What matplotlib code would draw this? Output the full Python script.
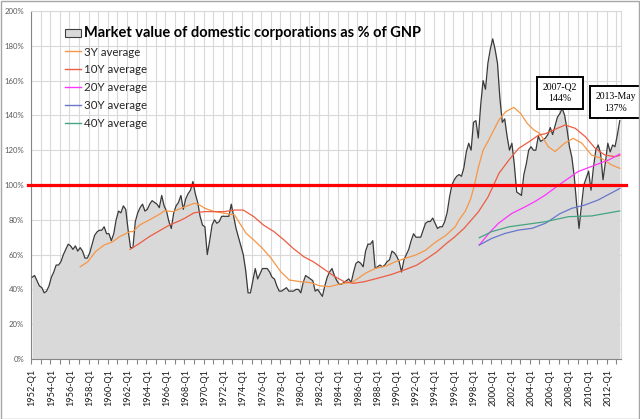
import matplotlib
matplotlib.use('Agg')
import matplotlib.pyplot as plt
from matplotlib.patches import Patch, Rectangle
from matplotlib.lines import Line2D

# ---------------- data ----------------
# Market value of domestic corporations as % of GNP, quarterly 1952-Q1 .. 2013-Q1, plus 2013-May
market_value = [
    47, 48, 45, 42,   41, 38, 39, 42,   47, 50, 54, 54,   56, 60, 63, 66,   # 1952-55
    65, 63, 65, 62,   64, 62, 58, 58,   61, 66, 71, 73,   74, 74, 76, 72,   # 1956-59
    72, 68, 72, 80,   85, 84, 88, 86,   74, 64, 64, 79,   84, 87, 89, 85,   # 1960-63
    86, 89, 91, 90,   89, 87, 94, 88,   85, 79, 75, 84,   88, 90, 94, 86,   # 1964-67
    92, 95, 97, 102,  95, 90, 82, 77,   76, 60, 68, 77,   80, 78, 79, 82,   # 1968-71
    82, 82, 82, 89,   82, 75, 70, 65,   60, 51, 38, 38,   45, 52, 46, 49,   # 1972-75
    52, 52, 52, 50,   47, 46, 42, 39,   39, 40, 41, 39,   39, 39, 40, 40,   # 1976-79
    38, 44, 48, 47,   46, 45, 39, 40,   38, 36, 42, 47,   50, 52, 48, 45,   # 1980-83
    43, 43, 44, 45,   46, 44, 50, 55,   56, 55, 53, 62,   66, 66, 68, 52,   # 1984-87
    53, 54, 53, 54,   56, 57, 62, 61,   59, 56, 50, 57,   60, 63, 68, 72,   # 1988-91
    70, 70, 70, 74,   78, 79, 79, 81,   78, 75, 76, 76,   79, 84, 93, 100,  # 1992-95
    103, 105, 106, 105, 110, 119, 124, 120, 136, 137, 127, 146, 160, 155, 170, 178,  # 1996-99
    184, 178, 170, 150, 136, 138, 128, 120, 124, 112, 96, 95, 94, 106, 112, 120,    # 2000-03
    122, 120, 120, 128, 125, 126, 127, 129, 133, 129, 134, 139, 141, 144, 140, 132,  # 2004-07
    122, 116, 105, 89, 75, 88, 100, 104, 108, 97, 110, 120, 123, 118, 103, 113,     # 2008-11
    124, 119, 123, 122,                                                          # 2012
    129, 137,                                                                    # 2013-Q1, 2013-May
]
categories = [f"{y}-Q{q}" for y in range(1952, 2013) for q in (1, 2, 3, 4)] + ["2013-Q1", "2013-May"]
tick_labels = [f"{y}-Q1" for y in range(1952, 2013, 2)]

# moving averages (decimal years)
avg3_years = [1957.0, 1957.8, 1958.6, 1959.5, 1960.4, 1961.1, 1962.2, 1962.5, 1963.2, 1964.2,
              1965.3, 1965.8, 1966.7, 1967.9, 1968.9, 1969.3, 1970.0, 1971.0, 1972.0, 1973.1,
              1973.75, 1974.3, 1975.1, 1976.0, 1976.9, 1977.9, 1978.8, 1980.0, 1981.0, 1982.0,
              1983.0, 1984.0, 1985.4, 1986.8, 1987.8, 1988.9, 1989.9, 1990.9, 1992.0, 1993.0,
              1994.0, 1995.1, 1996.1, 1996.5, 1997.15, 1997.7, 1998.1, 1998.5, 1999.0, 1999.6,
              2000.65, 2001.35, 2002.2, 2002.9, 2003.6, 2004.3, 2004.9, 2005.8, 2006.5, 2007.5,
              2008.4, 2009.3, 2010.3, 2011.35, 2012.4, 2013.25]
avg3_vals = [53.0, 55.9, 61.7, 65.5, 67.4, 70.3, 73.2, 73.2, 77.0, 79.9,
             83.3, 85.2, 84.7, 87.5, 89.5, 89.0, 86.6, 84.7, 83.8, 82.8,
             77.0, 72.2, 68.4, 63.6, 57.9, 50.2, 45.4, 44.4, 43.9, 42.0,
             41.6, 43.0, 44.2, 49.5, 52.1, 53.5, 56.0, 57.9, 59.8, 62.5,
             67.0, 71.0, 76.0, 80.0, 85.0, 92.0, 100.0, 110.0, 120.0, 126.0,
             137.4, 142.1, 144.6, 141.2, 135.4, 131.6, 129.7, 122.0, 119.2, 124.0,
             126.8, 124.0, 117.2, 115.3, 111.5, 109.6]

avg10_years = [1962.2, 1963.2, 1964.2, 1965.3, 1966.3, 1967.4, 1967.9, 1968.9, 1970.0, 1971.0,
               1972.0, 1973.1, 1974.0, 1975.1, 1976.1, 1977.2, 1978.25, 1979.2, 1980.3, 1981.3,
               1982.3, 1983.5, 1984.5, 1985.5, 1986.6, 1988.0, 1989.4, 1990.75, 1992.1, 1993.2,
               1994.2, 1995.2, 1996.0, 1997.0, 1998.5, 1999.5, 2000.1, 2000.65, 2001.7, 2002.7,
               2003.8, 2004.8, 2005.5, 2006.5, 2007.55, 2008.6, 2009.65, 2010.7, 2011.7, 2012.75,
               2013.25]
avg10_vals = [63.0, 66.5, 70.3, 73.8, 77.0, 79.5, 80.9, 84.1, 84.7, 84.7,
              84.7, 85.6, 85.6, 81.8, 77.0, 73.2, 68.4, 63.6, 58.8, 55.9,
              52.1, 47.5, 44.5, 43.5, 44.4, 46.4, 48.5, 51.1, 54.0, 57.9,
              61.7, 66.5, 70.0, 75.0, 84.5, 93.0, 100.0, 106.7, 114.4, 121.0,
              124.9, 128.7, 129.5, 132.0, 134.5, 132.6, 127.8, 121.0, 117.2, 116.3,
              117.0]

avg20_years = [1998.6, 1999.6, 2000.6, 2002.0, 2003.4, 2004.4, 2005.5, 2006.9, 2008.9, 2010.7, 2012.1, 2013.25]
avg20_vals = [65.5, 72.2, 78.0, 83.7, 87.5, 90.5, 94.3, 100.0, 107.7, 111.5, 114.4, 117.8]

avg30_years = [1998.6, 1999.9, 2001.3, 2002.7, 2004.1, 2005.5, 2007.0, 2008.25, 2009.6, 2011.0, 2013.25]
avg30_vals = [65.5, 69.3, 72.2, 74.1, 75.1, 78.0, 83.5, 86.6, 88.5, 91.4, 98.0]

avg40_years = [1998.6, 1999.9, 2001.7, 2003.8, 2005.5, 2007.9, 2010.3, 2013.25]
avg40_vals = [69.7, 73.2, 76.0, 77.6, 78.9, 81.8, 82.2, 85.1]

threshold = 100
callouts = ["2007-Q2", "2013-May"]

series_names = ["Market value of domestic corporations as % of GNP",
                "3Y average", "10Y average", "20Y average", "30Y average", "40Y average"]

# ---------------- styles ----------------
AREA = '#d9d9d9'
GRID = '#d9d9d9'
AXIS = '#868686'
C3, C10, C20, C30, C40 = '#F79646', '#EE5C42', '#FF33FF', '#6677CC', '#44A582'

fig = plt.figure(figsize=(6.40, 4.19), dpi=100)
ax = fig.add_axes([31 / 640, 1 - 359 / 419, 590 / 640, 348 / 419])

idx = list(range(len(market_value)))
ax.fill_between(idx, 0, market_value, color=AREA, lw=0, zorder=2)
ax.plot(idx, market_value, color='#3a3a3a', lw=0.9, zorder=3)

def to_idx(years):
    return [(y - 1952) * 4 for y in years]

ax.plot(to_idx(avg3_years), avg3_vals, color=C3, lw=0.9, zorder=4)
ax.plot(to_idx(avg10_years), avg10_vals, color=C10, lw=0.9, zorder=4)
ax.plot(to_idx(avg20_years), avg20_vals, color=C20, lw=0.9, zorder=4)
ax.plot(to_idx(avg30_years), avg30_vals, color=C30, lw=0.9, zorder=4)
ax.plot(to_idx(avg40_years), avg40_vals, color=C40, lw=0.9, zorder=4)

ax.axhline(threshold, xmin=-0.005, xmax=1.008, color='#FF0000', lw=2.3, zorder=5, clip_on=False)

# axes
ax.set_xlim(-0.5, len(market_value) - 0.5)
ax.set_ylim(0, 200)
ax.set_yticks(range(0, 201, 20))
ax.set_yticklabels([f"{v}%" for v in range(0, 201, 20)], fontsize=5.6, color='#595959', family='Lato')
ax.tick_params(axis='y', length=0, pad=5)

major = [categories.index(t) for t in tick_labels]
ax.set_xticks(major)
ax.set_xticklabels(tick_labels, rotation=90, fontsize=6.6, family='Lato', color='#1a1a1a')
ax.tick_params(axis='x', which='major', length=0, pad=7)
minor = [i - 0.5 for i in range(0, len(market_value), 4)]
ax.set_xticks(minor, minor=True)
ax.tick_params(axis='x', which='minor', length=3.5, color=AXIS, width=0.8)

ax.grid(axis='y', which='major', color=GRID, lw=0.8, zorder=0)
ax.grid(axis='x', which='minor', color=GRID, lw=0.8, zorder=0)
ax.set_axisbelow(True)
for s in ('left', 'bottom'):
    ax.spines[s].set_color(AXIS)
    ax.spines[s].set_linewidth(0.8)
for s in ('top', 'right'):
    ax.spines[s].set_color(GRID)
    ax.spines[s].set_linewidth(0.8)

# legend
handles = [Patch(facecolor=AREA, edgecolor='#404040', lw=0.8),
           Line2D([], [], color=C3, lw=1), Line2D([], [], color=C10, lw=1),
           Line2D([], [], color=C20, lw=1), Line2D([], [], color=C30, lw=1),
           Line2D([], [], color=C40, lw=1)]
leg = ax.legend(handles, series_names, loc='upper left', bbox_to_anchor=(0.057, 0.958),
                frameon=False, prop={'family': 'Lato', 'size': 8.3},
                handlelength=1.45, handletextpad=0.25, labelspacing=0.6,
                borderpad=0, borderaxespad=0)
for t in leg.get_texts():
    t.set_color('#262626')
leg.get_texts()[0].set_fontweight('bold')
leg.get_texts()[0].set_fontsize(10.5)
leg.get_texts()[0].set_color('black')

# callouts
offsets = {"2007-Q2": (-2, 5), "2013-May": (-4, 8)}
for lab in callouts:
    i = categories.index(lab)
    v = market_value[i]
    dx, dy = offsets[lab]
    ax.annotate(f"{lab}\n{v}%", xy=(i, v), xytext=(dx * 0.72, dy * 0.72), textcoords='offset points',
                ha='center', va='bottom', fontsize=7, family='Liberation Serif', linespacing=1.35,
                bbox=dict(boxstyle='square,pad=0.6', fc='white', ec='black', lw=1.4),
                annotation_clip=False, zorder=10)

fig.patches.append(Rectangle((0.001, 0.001), 0.997, 0.997, transform=fig.transFigure,
                             fill=False, ec='#a6a6a6', lw=1))

fig.savefig('out.png', dpi=100)
